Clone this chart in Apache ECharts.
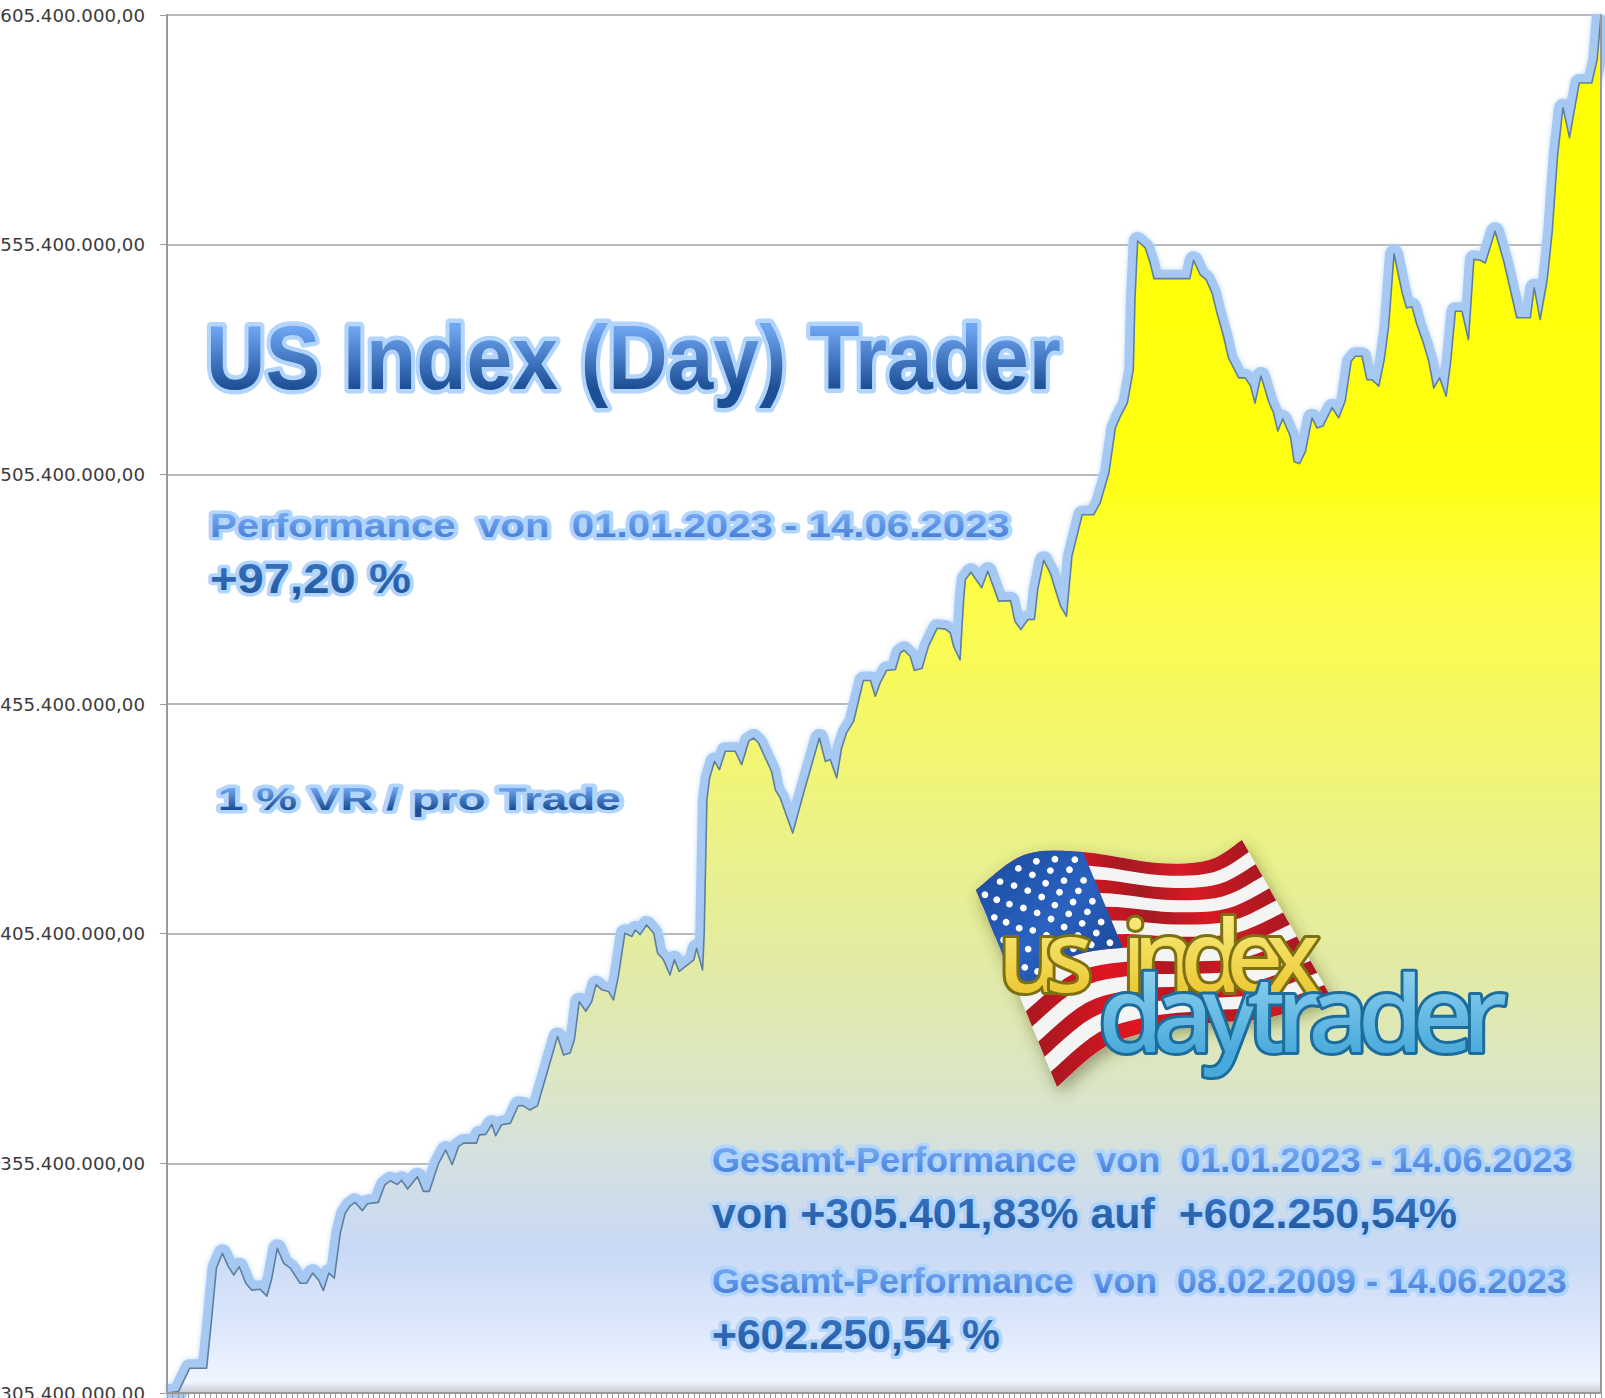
<!DOCTYPE html>
<html>
<head>
<meta charset="utf-8">
<title>US Index (Day) Trader</title>
<script src="https://cdn.jsdelivr.net/npm/echarts@6/dist/echarts.min.js"></script>
<style>
  html, body { margin: 0; padding: 0; background: #fff; }
  #chart { width: 1605px; height: 1398px; overflow: hidden; }
</style>
</head>
<body>
<div id="chart"></div>
<script>
// values are in millions
const base = 305.4
const yLabels = ['305.400.000,00', '355.400.000,00', '405.400.000,00', '455.400.000,00', '505.400.000,00', '555.400.000,00', '605.400.000,00']

const days = [
  0, 2.1, 4.2, 7.3, 8.2, 9.1, 10.2, 11.3, 12.3, 13.3, 14.5, 15.6, 17.1, 18.4, 19.3, 20.3, 21.5, 22.7, 24.5, 25.7,
  26.8, 27.9, 28.8, 29.8, 30.8, 31.9, 32.8, 33.7, 34.6, 36, 36.9, 38.9, 40.1, 41.1, 42.4, 43.2, 44.3, 46.1, 47.2, 48.3,
  50, 51.3, 52.5, 53.7, 54.6, 57, 57.5, 58.7, 59.8, 60.5, 61.6, 63.2, 64.7, 65.6, 66.8, 68.2, 71.9, 73, 74.2, 75,
  75.9, 77.1, 78.2, 79, 80, 81.3, 82.2, 83.1, 84.3, 85.6, 86.2, 87.1, 88.3, 89.6, 90.3, 91.4, 92.6, 93.4, 94.3, 97,
  97.5, 98.6, 98.9, 99.4, 99.9, 100.8, 101.7, 102.8, 104.6, 105.8, 107.1, 108, 108.9, 111.3, 112, 112.9, 115.2, 117.2, 120.1, 121.2,
  122.1, 123.3, 124.2, 125.1, 126.4, 127.3, 128.2, 129.5, 130.4, 131.3, 132.5, 134.1, 135, 135.7, 136.8, 137.6, 139, 140.2, 141.8, 143.3,
  144.2, 144.8, 146, 146.7, 147, 148, 150, 151.1, 153.1, 155.3, 156.1, 157.2, 158.5, 159.7, 160.3, 161.4, 162.6, 164.5, 165.6, 166.6,
  168.5, 170.6, 171.8, 173.4, 174.6, 175.5, 176.8, 177.9, 178.2, 178.7, 180.1, 181, 181.7, 188.3, 189, 190.2, 191.3, 192.4, 193.3, 194.5,
  195.4, 197.3, 198.5, 199.5, 200.3, 201.4, 202.8, 203.7, 204.5, 205.4, 206.8, 207.5, 208.5, 209.6, 210.8, 211.7, 212.8, 214.5, 215.7, 216.9,
  218, 218.8, 220, 220.9, 221.8, 223.1, 224.1, 224.9, 225.9, 227.4, 228.2, 229.2, 230.1, 231.3, 232.3, 233.2, 234.3, 235.5, 236.3, 237.2,
  238.4, 239.6, 240.6, 241.8, 242.7, 244.5, 246.1, 248.5, 251, 251.7, 252.8, 254.1, 255, 256, 257, 258.2, 260, 262.3, 263.3, 264
]
const values = [
  305.4, 305.7, 310.8, 310.8, 321.3, 332.6, 335.8, 332.9, 331.1, 332.9, 329.3, 327.8, 328, 326.5, 330.4, 336.9, 333.6, 332.6, 329.3, 329.3,
  331.5, 330, 327.7, 331.5, 330.4, 340.2, 344.5, 346.1, 346.9, 345.1, 346.6, 346.9, 350.7, 351.6, 350.8, 351.7, 349.8, 352.5, 349.3, 349.3,
  355.4, 358.3, 355.1, 359.1, 359.8, 359.8, 361.6, 361.7, 363.9, 361.4, 363.8, 364.1, 368, 367.9, 367, 367.9, 383, 379, 379.4, 382.3,
  390.6, 388.5, 390.6, 394.3, 393.2, 392.8, 391, 396.1, 405.5, 404.8, 406.2, 405.2, 407.3, 405.5, 401.2, 399.7, 396.4, 399.7, 397.2, 399.7,
  402.2, 397.5, 405.5, 434.6, 439.3, 442.9, 441.1, 445.1, 445.1, 442.2, 447.3, 448, 446.9, 440.7, 436.7, 434.9, 427.3, 436, 448, 442.9,
  443.3, 439.3, 445.8, 449.1, 451.6, 456, 460.5, 460.5, 457.1, 460, 462.7, 462.9, 466.5, 467.1, 465.8, 462.7, 463.2, 468, 471.9, 471.7,
  470.9, 468, 465, 478.8, 482.5, 484.1, 480.7, 484.3, 477.8, 477.9, 473.4, 471.6, 473.8, 473.8, 480.3, 486.7, 483.9, 476.7, 474.5, 487.6,
  496.6, 496.6, 499.2, 505.7, 515.5, 518, 520.9, 528.2, 543.5, 556.2, 554.7, 551.4, 548, 548, 552, 548.9, 547.8, 544.9, 540.5, 535.5,
  530.8, 526.4, 526.4, 524.6, 520.9, 526.8, 521.3, 518.8, 514.8, 517.5, 513.7, 508.2, 507.7, 510.4, 517.7, 515.5, 515.9, 519.9, 517.7, 521.3,
  530, 531.1, 531.1, 526, 526, 524.6, 530.4, 537.6, 553.4, 544.9, 541.6, 541.9, 538, 534, 530, 524.2, 526.4, 522.4, 529.7, 540.9,
  540.9, 534.7, 552.2, 552, 551.4, 558.3, 551.8, 539.5, 539.5, 546, 539.1, 547.8, 558, 574.7, 585.2, 578.7, 590.6, 590.6, 595.7, 605.4
]

// text blocks over the chart: left, right, baseline, cap height
const notes = [
  {text: 'US Index (Day) Trader', l: 206, r: 1061, b: 390, cap: 65, grad: 'title'},
  {text: 'Performance  von  01.01.2023 - 14.06.2023', l: 210, r: 1010, b: 537, cap: 24, grad: 'light'},
  {text: '+97,20 %', l: 210, r: 411, b: 594, cap: 31, grad: 'dark'},
  {text: '1 % VR / pro Trade', l: 218, r: 621, b: 810, cap: 23, grad: 'title'},
  {text: 'Gesamt-Performance  von  01.01.2023 - 14.06.2023', l: 712, r: 1573, b: 1173, cap: 25, grad: 'light'},
  {text: 'von +305.401,83% auf  +602.250,54%', l: 712, r: 1457, b: 1229, cap: 30, grad: 'dark'},
  {text: 'Gesamt-Performance  von  08.02.2009 - 14.06.2023', l: 712, r: 1567, b: 1293, cap: 25, grad: 'light'},
  {text: '+602.250,54 %', l: 712, r: 1000, b: 1350, cap: 30, grad: 'dark'}
]

const gradients = {
  title: ['#6fa6f3', '#1d4f96'],
  light: ['#74a9f2', '#4a82da'],
  dark: ['#3470bc', '#245aa4'],
  yellow: ['#f8ec80', '#ecc832'],
  blue: ['#8fd0ee', '#48aadc']
}

const measure = document.createElement('canvas').getContext('2d')
function fitScale (text, font, width) {
  measure.font = font
  return width / measure.measureText(text).width
}

function noteElements () {
  return notes.map(n => {
    let size = Math.round(n.cap / 0.716)
    let font = 'bold ' + size + 'px "Liberation Sans"'
    return {
      type: 'text',
      z: 100,
      x: n.l,
      y: n.b - n.cap / 2,
      scaleX: fitScale(n.text, font, n.r - n.l),
      style: {
        text: n.text,
        font: font,
        fill: '#3a70c0',
        stroke: '#b2d5fd',
        lineWidth: n.cap > 50 ? 9 : 7,
        shadowBlur: 3,
        shadowColor: '#a8d0ff',
        textAlign: 'left',
        textVerticalAlign: 'middle'
      }
    }
  })
}

// flag of the logo, a surface between a top and a bottom edge
const flagTop = [[976, 890], [1024, 855], [1083, 852], [1157, 863], [1209, 860], [1242, 840]]
const flagBottom = [[1057, 1087], [1105, 1047], [1157, 1030], [1209, 1023], [1268, 1018], [1331, 997]]

function edge (nodes, u) {
  let n = nodes.length - 1
  let i = Math.min(Math.floor(u * n), n - 1)
  let t = u * n - i
  let p0 = nodes[Math.max(i - 1, 0)]
  let p1 = nodes[i]
  let p2 = nodes[i + 1]
  let p3 = nodes[Math.min(i + 2, n)]
  return [0, 1].map(k => 0.5 * (2 * p1[k] + (p2[k] - p0[k]) * t +
    (2 * p0[k] - 5 * p1[k] + 4 * p2[k] - p3[k]) * t * t +
    (3 * p1[k] - p0[k] - 3 * p2[k] + p3[k]) * t * t * t))
}

function flagPoint (u, v) {
  let a = edge(flagTop, u)
  let b = edge(flagBottom, u)
  return [a[0] + (b[0] - a[0]) * v, a[1] + (b[1] - a[1]) * v]
}

function flagPatch (u0, u1, v0, v1) {
  let pts = []
  for (let i = 0; i <= 30; i++) pts.push(flagPoint(u0 + (u1 - u0) * i / 30, v0))
  for (let i = 30; i >= 0; i--) pts.push(flagPoint(u0 + (u1 - u0) * i / 30, v1))
  return pts
}

function logoElements () {
  let els = []
  let red = new echarts.graphic.LinearGradient(0, 0, 1, 0, [
    {offset: 0, color: '#a81820'}, {offset: 0.3, color: '#e01522'}, {offset: 0.55, color: '#a51a22'},
    {offset: 0.75, color: '#d81a24'}, {offset: 1, color: '#a81820'}
  ])
  els.push({
    type: 'polygon', z: 90, shape: {points: flagPatch(0, 1, 0, 1)},
    style: {fill: '#f4f4f4', shadowBlur: 16, shadowColor: 'rgba(60,60,20,0.45)', shadowOffsetX: 3, shadowOffsetY: 6}
  })
  for (let i = 0; i < 13; i += 2) {
    els.push({type: 'polygon', z: 91, shape: {points: flagPatch(0, 1, i / 13, (i + 1) / 13)}, style: {fill: red}})
  }
  els.push({
    type: 'polygon', z: 92, shape: {points: flagPatch(0, 0.4, 0, 7 / 13)},
    style: {fill: new echarts.graphic.LinearGradient(0, 0, 1, 1, [
      {offset: 0, color: '#1a4a9c'}, {offset: 0.5, color: '#2a62c0'}, {offset: 1, color: '#143c88'}
    ])}
  })
  // stars, offset rows of six and five
  for (let r = 0; r < 9; r++) {
    let cols = r % 2 ? 5 : 6
    for (let c = 0; c < cols; c++) {
      let u = (r % 2 ? 0.068 : 0.034) + c * 0.066
      let p = flagPoint(u, (r + 0.8) * 0.0575)
      els.push({type: 'circle', z: 93, shape: {cx: p[0], cy: p[1], r: 3.4}, style: {fill: '#fff'}})
    }
  }
  els.push({
    type: 'text', z: 95, x: 998, y: 953,
    style: {
      text: 'us index', font: '500 100px "Noto Sans"', fill: '#f0d850', stroke: '#7d7012', lineWidth: 6,
      textAlign: 'left', textVerticalAlign: 'middle',
      shadowBlur: 10, shadowColor: 'rgba(40,40,0,0.55)', shadowOffsetX: 3, shadowOffsetY: 5
    }
  })
  els.push({
    type: 'text', z: 96, x: 1098, y: 1011,
    style: {
      text: 'daytrader', font: '500 106px "Noto Sans"', fill: '#5ab0dc', stroke: '#1c6c9c', lineWidth: 6,
      textAlign: 'left', textVerticalAlign: 'middle',
      shadowBlur: 10, shadowColor: 'rgba(0,30,50,0.55)', shadowOffsetX: 3, shadowOffsetY: 5
    }
  })
  return els
}

let chart = echarts.init(document.getElementById('chart'), null, {renderer: 'svg'})
let points = days.map((d, i) => [d, values[i] - base])

function plainAxis (position) {
  return {
    type: 'value', position: position, min: 0, max: 300, interval: 50, z: 5,
    axisLine: {show: true, onZero: false, lineStyle: {color: '#9a9a9a', width: 2}},
    axisTick: {show: false},
    axisLabel: {show: false},
    splitLine: {show: false}
  }
}

chart.setOption({
  animation: false,
  backgroundColor: '#fff',
  grid: {left: 167, right: 4, top: 15, bottom: 5, outerBoundsMode: 'none'},
  xAxis: {
    type: 'value',
    min: 0,
    max: 264,
    interval: 1,
    z: 5,
    axisLine: {onZero: false, lineStyle: {color: '#9a9a9a', width: 2}},
    axisTick: {show: true, length: 5, lineStyle: {color: '#999', width: 1}},
    axisLabel: {show: false},
    splitLine: {show: false}
  },
  yAxis: [
    {
      type: 'value',
      min: 0,
      max: 300,
      interval: 50,
      axisLine: {show: true, lineStyle: {color: '#9a9a9a', width: 2}},
      axisTick: {show: true, length: 7, lineStyle: {color: '#9a9a9a', width: 1}},
      axisLabel: {
        margin: 22,
        color: '#3c3c3c',
        fontFamily: 'DejaVu Sans',
        fontSize: 18.2,
        formatter: (v) => yLabels[v / 50]
      },
      splitLine: {lineStyle: {color: '#a0a0a0', width: 1.5}}
    },
    plainAxis('right'),
    plainAxis('left')
  ],
  series: [
    {
      type: 'line',
      z: 1,
      data: points,
      showSymbol: false,
      silent: true,
      lineStyle: {color: '#a6c9f3', width: 18, join: 'round', shadowBlur: 5, shadowColor: '#bcd8f8'}
    },
    {
      type: 'line',
      z: 2,
      data: points,
      showSymbol: false,
      silent: true,
      lineStyle: {color: '#5f7f9f', width: 1.6, join: 'round'},
      areaStyle: {
        opacity: 1,
        color: new echarts.graphic.LinearGradient(0, 0, 0, 1, [
          {offset: 0, color: '#ffff00'},
          {offset: 0.33, color: '#ffff10'},
          {offset: 0.42, color: '#fdfd48'},
          {offset: 0.47, color: '#f8fa58'},
          {offset: 0.57, color: '#eef47e'},
          {offset: 0.715, color: '#e0e9ae'},
          {offset: 0.79, color: '#dae5cc'},
          {offset: 0.84, color: '#d2dfe4'},
          {offset: 0.896, color: '#c9d9f5'},
          {offset: 0.95, color: '#dce7fb'},
          {offset: 0.992, color: '#eff5ff'},
          {offset: 1, color: '#c4c8d0'}
        ])
      }
    }
  ],
  graphic: {elements: noteElements().concat(logoElements())}
})

// zrender text has no gradient fill, so it goes on the svg afterwards
function paintTexts () {
  let svg = chart.getDom().querySelector('svg')
  if (!svg) return
  let ns = 'http://www.w3.org/2000/svg'
  if (!svg.querySelector('#grad-title')) {
    let defs = document.createElementNS(ns, 'defs')
    Object.keys(gradients).forEach(key => {
      let g = document.createElementNS(ns, 'linearGradient')
      g.setAttribute('id', 'grad-' + key)
      g.setAttribute('x1', '0')
      g.setAttribute('y1', '0')
      g.setAttribute('x2', '0')
      g.setAttribute('y2', '1')
      gradients[key].forEach((c, i) => {
        let s = document.createElementNS(ns, 'stop')
        s.setAttribute('offset', i === 0 ? '0.2' : '0.8')
        s.setAttribute('stop-color', c)
        g.appendChild(s)
      })
      defs.appendChild(g)
    })
    svg.appendChild(defs)
  }
  let byText = {'us index': 'yellow', 'daytrader': 'blue'}
  let lengths = {'us index': 322, 'daytrader': 409}
  notes.forEach(n => { byText[n.text] = n.grad })
  svg.querySelectorAll('text').forEach(t => {
    let content = t.textContent
    let key = byText[content]
    if (key) {
      t.style.fill = 'url(#grad-' + key + ')'
      t.style.paintOrder = 'stroke'
      t.style.strokeLinejoin = 'round'
    }
    if (lengths[content]) {
      t.setAttribute('textLength', lengths[content])
      t.setAttribute('lengthAdjust', 'spacing')
      if (content === 'us index') t.style.wordSpacing = '34px'
    }
  })
}

chart.getZr().flush()
paintTexts()
chart.on('finished', paintTexts)
</script>
</body>
</html>
